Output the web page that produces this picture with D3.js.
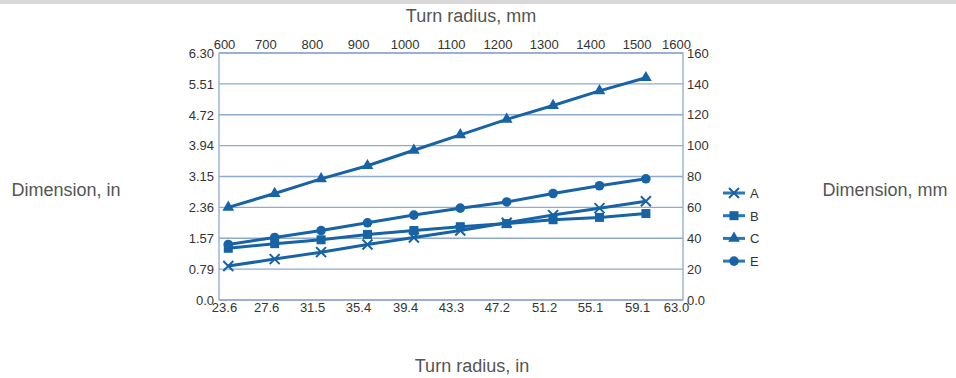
<!DOCTYPE html>
<html>
<head>
<meta charset="utf-8">
<script src="https://cdn.jsdelivr.net/npm/d3@7"></script>
<style>
  body { margin: 0; background: #fff; }
  svg { display: block; font-family: "Liberation Sans", Arial, sans-serif; }
  .axis text { fill: #333; font-size: 13px; }
  .title { fill: #555; font-size: 18px; }
</style>
</head>
<body>
<div id="chart"></div>
<script>
// turn radius of each measured point, mm
var radiusMm = [620, 720, 820, 920, 1020, 1120, 1220, 1320, 1420, 1520];

// dimensions in mm
var seriesA = [22, 26.5, 31, 36, 40.5, 45, 50, 55, 59.5, 64];
var seriesB = [33.5, 36.5, 39, 42.5, 45, 47.5, 49.5, 52, 53.5, 56];
var seriesC = [60, 69, 78.5, 87, 97, 107, 117, 126, 135.5, 144];
var seriesE = [36, 40.5, 45, 50, 55, 59.5, 63.5, 69, 74, 78.5];

var seriesNames = ["A", "B", "C", "E"];
var seriesMarks = ["cross", "square", "triangle", "circle"];

// tick labels
var mmTicksTop = [600, 700, 800, 900, 1000, 1100, 1200, 1300, 1400, 1500, 1600];
var inTicksBottom = [23.6, 27.6, 31.5, 35.4, 39.4, 43.3, 47.2, 51.2, 55.1, 59.1, 63.0];
var inTicksLeft = [0, 0.79, 1.57, 2.36, 3.15, 3.94, 4.72, 5.51, 6.30];
var mmTicksRight = [0, 20, 40, 60, 80, 100, 120, 140, 160];

var W = 956, H = 378;
var margin = { top: 53, right: 273, bottom: 78, left: 219 };
var width = W - margin.left - margin.right;
var height = H - margin.top - margin.bottom;

var blue = "#1763a6";
var gridColor = "#8faad0";

var svg = d3.select("#chart").append("svg")
    .attr("width", W)
    .attr("height", H);

// grey strip along the top edge
svg.append("rect")
    .attr("x", 0).attr("y", 0)
    .attr("width", W).attr("height", 4)
    .attr("fill", "#d9d9d9");

var g = svg.append("g")
    .attr("transform", "translate(" + margin.left + "," + margin.top + ")");

// Scales
var xMm = d3.scaleLinear().domain([600, 1600]).range([0, width]);
var xIn = d3.scaleLinear().domain([23.6, 63.0]).range([0, width]);
var yMm = d3.scaleLinear().domain([0, 160]).range([height, 0]);
var yIn = d3.scaleLinear().domain([0, 6.30]).range([height, 0]);

// horizontal grid
g.append("g")
    .selectAll("line")
    .data(mmTicksRight)
    .enter().append("line")
    .attr("x1", 0)
    .attr("x2", width)
    .attr("y1", function(d) { return yMm(d); })
    .attr("y2", function(d) { return yMm(d); })
    .attr("stroke", gridColor)
    .attr("stroke-width", 1.3);

// frame
g.append("rect")
    .attr("width", width)
    .attr("height", height)
    .attr("fill", "none")
    .attr("stroke", gridColor)
    .attr("stroke-width", 1.3);

// Axes (labels only, no ticks or domain lines)
function strip(sel) {
    sel.select(".domain").remove();
    sel.selectAll(".tick line").remove();
}

g.append("g")
    .attr("class", "axis")
    .call(d3.axisLeft(yIn).tickValues(inTicksLeft).tickSize(0).tickPadding(5)
        .tickFormat(function(d) { return d === 0 ? "0.0" : d.toFixed(2); }))
    .call(strip);

g.append("g")
    .attr("class", "axis")
    .attr("transform", "translate(" + width + ",0)")
    .call(d3.axisRight(yMm).tickValues(mmTicksRight).tickSize(0).tickPadding(4)
        .tickFormat(function(d) { return d === 0 ? "0.0" : d; }))
    .call(strip);

g.append("g")
    .attr("class", "axis")
    .attr("transform", "translate(0," + height + ")")
    .call(d3.axisBottom(xIn).tickValues(inTicksBottom).tickSize(0).tickPadding(3)
        .tickFormat(function(d) { return d.toFixed(1); }))
    .call(strip);

g.append("g")
    .attr("class", "axis")
    .call(d3.axisTop(xMm).tickValues(mmTicksTop).tickSize(0).tickPadding(4)
        .tickFormat(d3.format("d")))
    .call(strip);

// nudge the end labels inward a little, like the reference
g.selectAll(".axis .tick text")
    .filter(function(d) { return d === 23.6 || d === 600; })
    .attr("dx", 5);
g.selectAll(".axis .tick text")
    .filter(function(d) { return d === 63.0 || d === 1600; })
    .attr("dx", -7);

// Markers
function drawMark(sel, kind) {
    if (kind === "circle") {
        sel.append("circle").attr("r", 4.8).attr("fill", blue);
    } else if (kind === "square") {
        sel.append("rect")
            .attr("x", -4.5).attr("y", -4.5)
            .attr("width", 9).attr("height", 9)
            .attr("fill", blue);
    } else if (kind === "triangle") {
        sel.append("path")
            .attr("d", d3.symbol().type(d3.symbolTriangle).size(60))
            .attr("fill", blue);
    } else {
        sel.append("path")
            .attr("d", "M-5,-5L5,5M-5,5L5,-5")
            .attr("stroke", blue)
            .attr("stroke-width", 2)
            .attr("fill", "none");
    }
}

var allSeries = [seriesA, seriesB, seriesC, seriesE];

var line = d3.line()
    .x(function(d, i) { return xMm(radiusMm[i]); })
    .y(function(d) { return yMm(d); });

allSeries.forEach(function(values, s) {
    g.append("path")
        .datum(values)
        .attr("fill", "none")
        .attr("stroke", blue)
        .attr("stroke-width", 3)
        .attr("d", line);

    values.forEach(function(v, i) {
        var m = g.append("g")
            .attr("transform", "translate(" + xMm(radiusMm[i]) + "," + yMm(v) + ")");
        drawMark(m, seriesMarks[s]);
    });
});

// Legend
var legend = svg.append("g")
    .attr("transform", "translate(723,193)");

seriesNames.forEach(function(name, i) {
    var row = legend.append("g")
        .attr("transform", "translate(0," + (i * 22.7) + ")");
    row.append("line")
        .attr("x1", 0).attr("x2", 22)
        .attr("stroke", "#2b77b5")
        .attr("stroke-width", 3);
    var m = row.append("g").attr("transform", "translate(11,0)");
    drawMark(m, seriesMarks[i]);
    row.append("text")
        .attr("x", 27)
        .attr("y", 5)
        .attr("fill", "#333")
        .style("font-size", "13px")
        .text(name);
});

// Titles
svg.append("text")
    .attr("class", "title")
    .attr("x", 471)
    .attr("y", 22)
    .attr("text-anchor", "middle")
    .text("Turn radius, mm");

svg.append("text")
    .attr("class", "title")
    .attr("x", 472)
    .attr("y", 372)
    .attr("text-anchor", "middle")
    .text("Turn radius, in");

svg.append("text")
    .attr("class", "title")
    .attr("x", 66)
    .attr("y", 196)
    .attr("text-anchor", "middle")
    .text("Dimension, in");

svg.append("text")
    .attr("class", "title")
    .attr("x", 885)
    .attr("y", 196)
    .attr("text-anchor", "middle")
    .text("Dimension, mm");
</script>
</body>
</html>
